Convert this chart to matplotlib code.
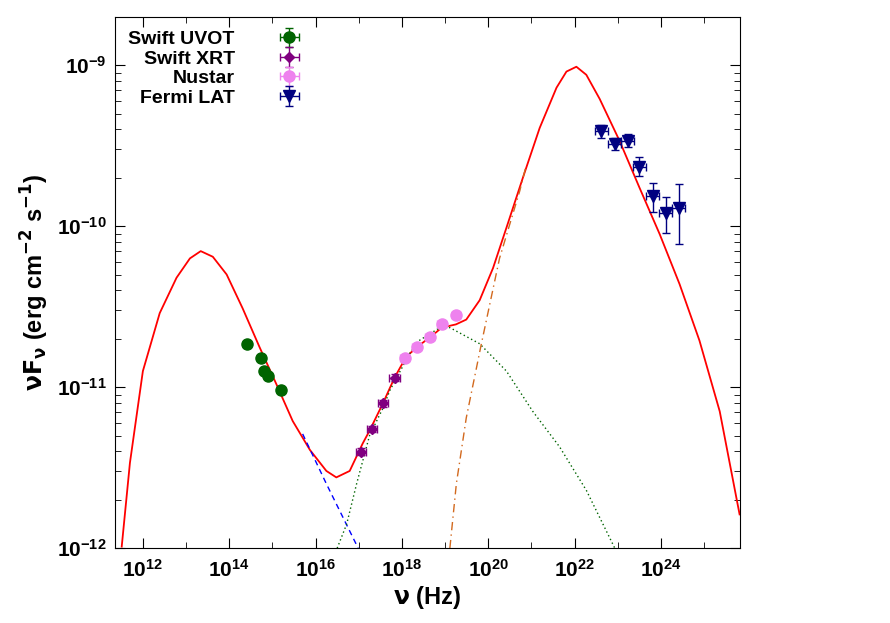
import numpy as np
import matplotlib
matplotlib.use("Agg")
import matplotlib.pyplot as plt
from matplotlib.ticker import LogLocator, NullFormatter, FixedLocator

plt.rcParams['font.family'] = 'Liberation Sans'
plt.rcParams['font.weight'] = 'bold'

# log10 values
uvot_lx = [14.41, 14.73, 14.80, 14.89, 15.19]
uvot_ly = [-10.73, -10.82, -10.90, -10.93, -11.02]
xrt_lx = [17.05, 17.30, 17.56, 17.83]
xrt_ly = [-11.40, -11.26, -11.10, -10.94]
nu_lx = [18.06, 18.34, 18.64, 18.92, 19.25]
nu_ly = [-10.82, -10.75, -10.69, -10.61, -10.55]
lat_lx = [22.62, 22.93, 23.23, 23.50, 23.81, 24.11, 24.41]
lat_ly = [-9.41, -9.49, -9.47, -9.63, -9.81, -9.92, -9.89]
lat_up = [0.04, 0.04, 0.04, 0.06, 0.08, 0.10, 0.15]
lat_lo = [0.04, 0.04, 0.04, 0.06, 0.10, 0.12, 0.22]
x_tick_exps = [12, 14, 16, 18, 20, 22, 24]
y_tick_exps = [-12, -11, -10, -9]

tot_lx = [11.51, 11.70, 12.00, 12.39, 12.78, 13.09, 13.34, 13.62, 13.94, 14.31, 14.70, 15.09, 15.47,
          15.87, 16.25, 16.48, 16.79, 17.09, 17.25, 17.56, 17.83, 18.10, 18.40, 18.70, 18.92, 19.25,
          19.49, 19.80, 20.11, 20.42, 20.80, 21.19, 21.58, 21.81, 22.04, 22.27, 22.58, 23.04, 23.50,
          23.97, 24.43, 24.89, 25.36, 25.82]
tot_ly = [-11.99, -11.47, -10.90, -10.54, -10.32, -10.20, -10.155, -10.19, -10.30, -10.51, -10.75,
          -10.98, -11.21, -11.39, -11.52, -11.56, -11.52, -11.35, -11.27, -11.10, -10.94, -10.81,
          -10.74, -10.68, -10.63, -10.61, -10.58, -10.46, -10.26, -10.01, -9.70, -9.39, -9.14, -9.04,
          -9.01, -9.06, -9.21, -9.47, -9.76, -10.05, -10.36, -10.71, -11.15, -11.79]
syn_lx = [15.70, 16.25, 16.95, 17.02]
syn_ly = [-11.29, -11.60, -11.98, -12.02]
ssc_lx = [16.50, 16.72, 16.95, 17.25, 17.56, 17.72, 18.18, 18.40, 18.88, 19.11, 19.80, 20.42, 21.03,
          21.65, 22.27, 22.93]
ssc_ly = [-12.0, -11.85, -11.60, -11.30, -11.13, -11.02, -10.79, -10.71, -10.63, -10.63, -10.73,
          -10.90, -11.15, -11.37, -11.64, -12.0]
ec_lx = [19.11, 19.26, 19.49, 19.84, 20.26, 20.73, 20.88]
ec_ly = [-12.0, -11.60, -11.19, -10.73, -10.20, -9.78, -9.62]

def p(a):
    return 10.0 ** np.array(a, dtype=float)

fig = plt.figure(figsize=(8.9, 6.23), dpi=100)
ax = fig.add_axes([0.129, 0.120, 0.702, 0.853])

ax.plot(p(tot_lx), p(tot_ly), color='red', lw=1.3)
ax.plot(p(syn_lx), p(syn_ly), color='blue', lw=1, ls=(0, (4, 3)))
ax.plot(p(ssc_lx), p(ssc_ly), color='darkgreen', lw=1, ls=(0, (1, 2)))
ax.plot(p(ec_lx), p(ec_ly), color='#d2691e', lw=1, ls=(0, (6, 3, 1, 3)))

def eb(lx, ly, dx, up, lo, **kw):
    x = p(lx); y = p(ly)
    xerr = [x - p(np.array(lx) - dx), p(np.array(lx) + dx) - x]
    yerr = [y - p(np.array(ly) - np.array(lo)), p(np.array(ly) + np.array(up)) - y]
    return ax.errorbar(x, y, xerr=xerr, yerr=yerr, ls='none', capsize=3, elinewidth=1, **kw)

z5 = [0.0]*5
eb(uvot_lx, uvot_ly, 0.0, z5, z5, marker='o', ms=8, color='darkgreen', label='Swift UVOT')
eb(xrt_lx, xrt_ly, 0.12, [0.02]*4, [0.02]*4, marker='D', ms=5, color='purple', label='Swift XRT')
eb(nu_lx, nu_ly, 0.1, [0.01]*5, [0.01]*5, marker='o', ms=8, color='violet', label='Nustar')
eb(lat_lx, lat_ly, 0.15, lat_up, lat_lo, marker='v', ms=8, color='navy', label='Fermi LAT')

ax.set_xscale('log'); ax.set_yscale('log')
ax.set_xlim(10**11.35, 10**25.82)
ax.set_ylim(1e-12, 10**-8.70)
ax.xaxis.set_major_locator(FixedLocator(p(x_tick_exps)))
ax.yaxis.set_major_locator(FixedLocator(p(y_tick_exps)))
ax.xaxis.set_minor_locator(LogLocator(base=10, subs=(1.0,), numticks=30))
ax.xaxis.set_minor_formatter(NullFormatter())
ax.tick_params(which='both', direction='in', top=True, right=True, labelsize=15)
ax.tick_params(which='major', length=7)
ax.tick_params(which='minor', length=4)
ax.tick_params(axis='y', pad=6)
ax.tick_params(axis='x', pad=8)
ax.set_xlabel(r'$\mathbf{\nu}$ (Hz)', fontsize=17, fontweight='bold', labelpad=2)
ax.set_ylabel(r'$\mathbf{\nu F_{\nu}}$ (erg cm$^{\mathbf{-2}}$ s$^{\mathbf{-1}}$)', fontsize=17, fontweight='bold')
ax.legend(loc='upper left', frameon=False, markerfirst=False, fontsize=14,
          handlelength=4, borderaxespad=0.3, labelspacing=0.1)
fig.savefig('out.png', dpi=100)
